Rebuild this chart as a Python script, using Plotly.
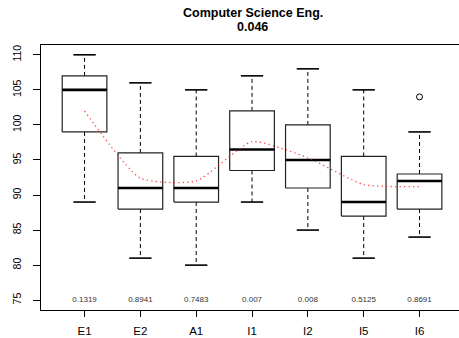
import plotly.graph_objects as go

# Five-number summaries per group
categories = ["E1", "E2", "A1", "I1", "I2", "I5", "I6"]
upper_whisker = [110, 106, 105, 107, 108, 105, 99]
q3 = [107, 96, 95.5, 102, 100, 95.5, 93]
medians = [105, 91, 91, 96.5, 95, 89, 92]
q1 = [99, 88, 89, 93.5, 91, 87, 88]
lower_whisker = [89, 81, 80, 89, 85, 81, 84]

# Points beyond the whiskers
outlier_groups = ["I6"]
outlier_values = [104]

# Group means (joined by a smooth dotted curve)
means = [102, 92.4, 92.0, 97.6, 95.3, 91.5, 91.2]

# Per-group p-values printed along the bottom, and the overall one in the title
p_values = ["0.1319", "0.8941", "0.7483", "0.007", "0.008", "0.5125", "0.8691"]
p_label_level = 75
title_main = "Computer Science Eng."
overall_p = "0.046"

FONT = "Liberation Sans, Arial, Helvetica, sans-serif"
BOX_HALF = 0.4
CAP_HALF = 0.2

pos = list(range(1, len(categories) + 1))

box_x, box_y = [], []
med_x, med_y = [], []
wh_x, wh_y = [], []
cap_x, cap_y = [], []
for p, lo, a, m, b, hi in zip(pos, lower_whisker, q1, medians, q3, upper_whisker):
    box_x += [p - BOX_HALF, p + BOX_HALF, p + BOX_HALF, p - BOX_HALF, p - BOX_HALF, None]
    box_y += [a, a, b, b, a, None]
    med_x += [p - BOX_HALF, p + BOX_HALF, None]
    med_y += [m, m, None]
    wh_x += [p, p, None, p, p, None]
    wh_y += [b, hi, None, a, lo, None]
    cap_x += [p - CAP_HALF, p + CAP_HALF, None, p - CAP_HALF, p + CAP_HALF, None]
    cap_y += [hi, hi, None, lo, lo, None]

fig = go.Figure()
fig.add_trace(go.Scatter(x=wh_x, y=wh_y, mode="lines",
                         line=dict(color="black", width=1, dash="4px,3px"),
                         hoverinfo="skip"))
fig.add_trace(go.Scatter(x=cap_x, y=cap_y, mode="lines",
                         line=dict(color="black", width=1.6), hoverinfo="skip"))
fig.add_trace(go.Scatter(x=box_x, y=box_y, mode="lines",
                         line=dict(color="#222222", width=1.2), hoverinfo="skip"))
fig.add_trace(go.Scatter(x=med_x, y=med_y, mode="lines",
                         line=dict(color="black", width=2.6), hoverinfo="skip"))
fig.add_trace(go.Scatter(
    x=[pos[categories.index(g)] for g in outlier_groups], y=outlier_values,
    mode="markers",
    marker=dict(symbol="circle-open", size=6, color="black", line=dict(width=1)),
))
fig.add_trace(go.Scatter(x=pos, y=means, mode="lines",
                         line=dict(color="rgba(255,30,30,0.8)", width=1.3,
                                   dash="1.3px,3.2px", shape="spline", smoothing=0.55),
                         hoverinfo="skip"))
fig.add_trace(go.Scatter(x=pos, y=[p_label_level] * len(pos), mode="text",
                         text=p_values,
                         textfont=dict(family=FONT, size=8, color="#333333"),
                         hoverinfo="skip"))

# Two-line bold heading above the frame
fig.add_annotation(text=f"<b>{title_main}</b>", xref="paper", yref="paper",
                   x=0.506, y=1.1208, xanchor="center", yanchor="middle",
                   showarrow=False, font=dict(family=FONT, size=12.5, color="black"))
fig.add_annotation(text=f"<b>{overall_p}</b>", xref="paper", yref="paper",
                   x=0.506, y=1.068, xanchor="center", yanchor="middle",
                   showarrow=False, font=dict(family=FONT, size=12.5, color="black"))

fig.update_layout(
    width=459, height=338,
    margin=dict(l=41, r=0, t=45, b=28),
    plot_bgcolor="white", paper_bgcolor="white",
    showlegend=False,
    font=dict(family=FONT, color="black"),
)
fig.update_xaxes(
    range=[0.22, 7.707], tickvals=pos, ticktext=categories,
    showgrid=False, zeroline=False,
    showline=True, linecolor="black", linewidth=1, mirror=True,
    ticks="outside", ticklen=6, tickcolor="black", ticklabelstandoff=4,
    tickfont=dict(family=FONT, size=11.5, color="black"),
)
fig.update_yaxes(
    range=[73.6, 111.4], tickvals=[75, 80, 85, 90, 95, 100, 105, 110],
    showgrid=False, zeroline=False,
    showline=True, linecolor="black", linewidth=1,
    ticks="outside", ticklen=7, tickcolor="black", tickangle=-90,
    ticklabelstandoff=8,
    tickfont=dict(family=FONT, size=10.5, color="black"),
)

fig.write_html("out.html")
